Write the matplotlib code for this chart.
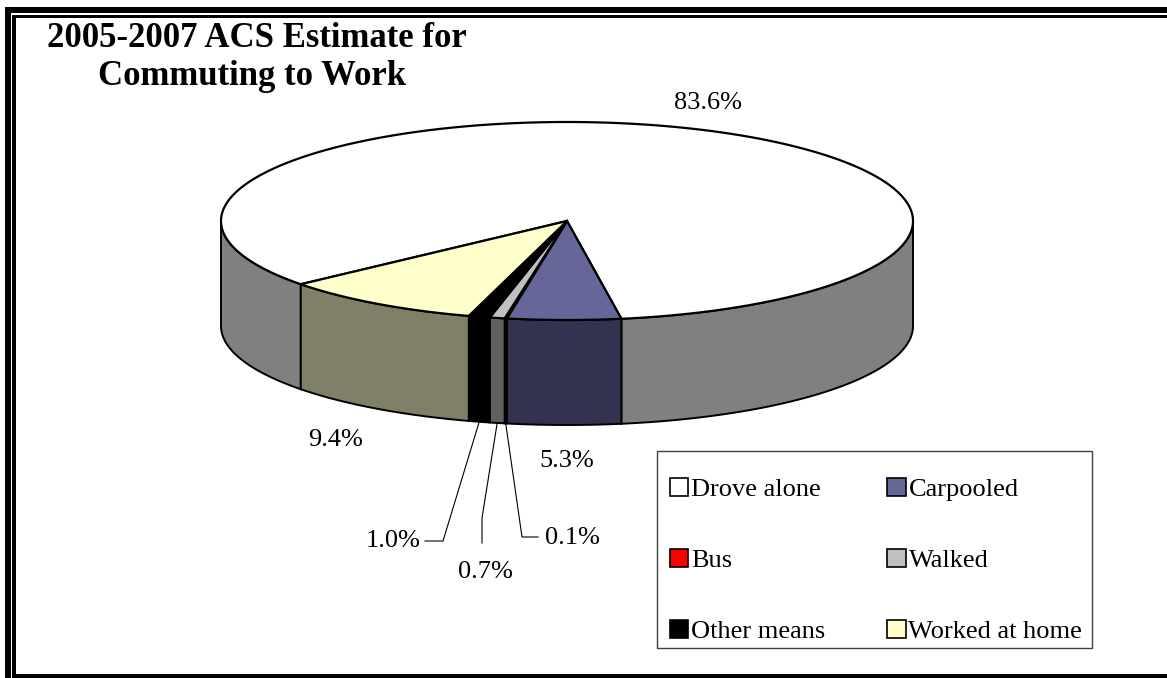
import numpy as np
import matplotlib.pyplot as plt
from matplotlib.patches import Polygon, Rectangle, Patch

# commuting shares, 2005-2007 ACS
modes = ['Drove alone', 'Carpooled', 'Bus', 'Walked', 'Other means', 'Worked at home']
shares = [83.6, 5.3, 0.1, 0.7, 1.0, 9.4]
pct_labels = ['83.6%', '5.3%', '0.1%', '0.7%', '1.0%', '9.4%']

top_colors = ['#FFFFFF', '#666699', '#FF0000', '#C0C0C0', '#000000', '#FFFFCC']
side_colors = ['#808080', '#333350', '#800000', '#606060', '#000000', '#808066']

plt.rcParams['font.family'] = ['Liberation Serif', 'DejaVu Serif']

W, H = 1167, 678
fig = plt.figure(figsize=(W / 100, H / 100), dpi=100)
ax = fig.add_axes([0, 0, 1, 1])
ax.set_xlim(0, W)
ax.set_ylim(H, 0)
ax.axis('off')

# pie geometry (pixel units)
cx, cy, a, b, depth = 567, 221, 346, 99, 105
start = 219.7  # first slice starts here and runs clockwise


def rim(t, dz=0.0):
    t = np.radians(t)
    return cx + a * np.cos(t), cy - b * np.sin(t) + dz


vals = np.array(shares)
bounds = start - np.concatenate([[0], np.cumsum(vals)]) / vals.sum() * 360

# side walls: only the front half (180..360 deg) is visible
for i in range(len(vals)):
    hi, lo = bounds[i], bounds[i + 1]
    for k in (-1, 0, 1):
        s_lo, s_hi = max(lo, k * 360 - 180), min(hi, k * 360)
        if s_hi <= s_lo:
            continue
        t = np.linspace(s_lo, s_hi, 120)
        xt, yt = rim(t)
        xb, yb = rim(t[::-1], depth)
        pts = np.column_stack([np.concatenate([xt, xb]), np.concatenate([yt, yb])])
        ax.add_patch(Polygon(pts, closed=True, facecolor=side_colors[i],
                             edgecolor='black', linewidth=1.4, zorder=2))

# top face wedges
for i in range(len(vals)):
    t = np.linspace(bounds[i], bounds[i + 1], 400)
    xs, ys = rim(t)
    pts = np.column_stack([np.concatenate([[cx], xs]), np.concatenate([[cy], ys])])
    ax.add_patch(Polygon(pts, closed=True, facecolor=top_colors[i],
                         edgecolor='black', linewidth=1.6, zorder=3))

# percent labels for the big slices
lab_pos = {0: (708, 103), 1: (567, 461), 5: (336, 440)}
for i, (x, y) in lab_pos.items():
    ax.text(x, y, pct_labels[i], fontsize=19, ha='center', va='center')

# small slices get leader lines from the bottom rim
mids = (bounds[:-1] + bounds[1:]) / 2
leaders = {
    2: [(522, 537), (538, 537)],
    3: [(482, 518), (482, 543)],
    4: [(443, 541), (425, 541)],
}
text_at = {2: (572, 538), 3: (485, 572), 4: (393, 541)}
for i, path in leaders.items():
    x0, y0 = rim(mids[i], depth)
    xs = [x0] + [p[0] for p in path]
    ys = [y0] + [p[1] for p in path]
    ax.plot(xs, ys, color='black', lw=0.8, zorder=4)
    tx, ty = text_at[i]
    ax.text(tx, ty, pct_labels[i], fontsize=19, ha='center', va='center')

# title
ax.text(257, 47, '2005-2007 ACS Estimate for', fontsize=25, fontweight='bold',
        ha='center', va='baseline')
ax.text(252, 85, 'Commuting to Work', fontsize=25, fontweight='bold',
        ha='center', va='baseline')

# legend, with its box drawn separately
ax.add_patch(Rectangle((657, 451), 1092 - 657, 648 - 451, facecolor='white',
                       edgecolor='#404040', linewidth=1.0, zorder=5))
handles = [Patch(facecolor=c, edgecolor='black', linewidth=1.2) for c in top_colors]
order = [0, 2, 4, 1, 3, 5]
leg = ax.legend([handles[j] for j in order], [modes[j] for j in order],
                ncol=2, loc='upper left',
                bbox_to_anchor=(670 / W, 1 - 478 / H),
                fontsize=19, frameon=False,
                handlelength=0.7, handleheight=0.7, handletextpad=0.1,
                columnspacing=2.35, labelspacing=1.8, borderpad=0,
                borderaxespad=0)
leg.set_zorder(6)

# double frame round the chart area
for (x0, y0, x1, y1) in [(5, 7, W, 13), (12, 14.5, W, 17.5),
                         (5, 7, 10.5, H), (12, 14.5, 15.5, 676),
                         (12, 674, W, H)]:
    ax.add_patch(Rectangle((x0, y0), x1 - x0, y1 - y0, facecolor='black',
                           edgecolor='none', clip_on=False, zorder=7))

fig.savefig('out.png', dpi=100)
